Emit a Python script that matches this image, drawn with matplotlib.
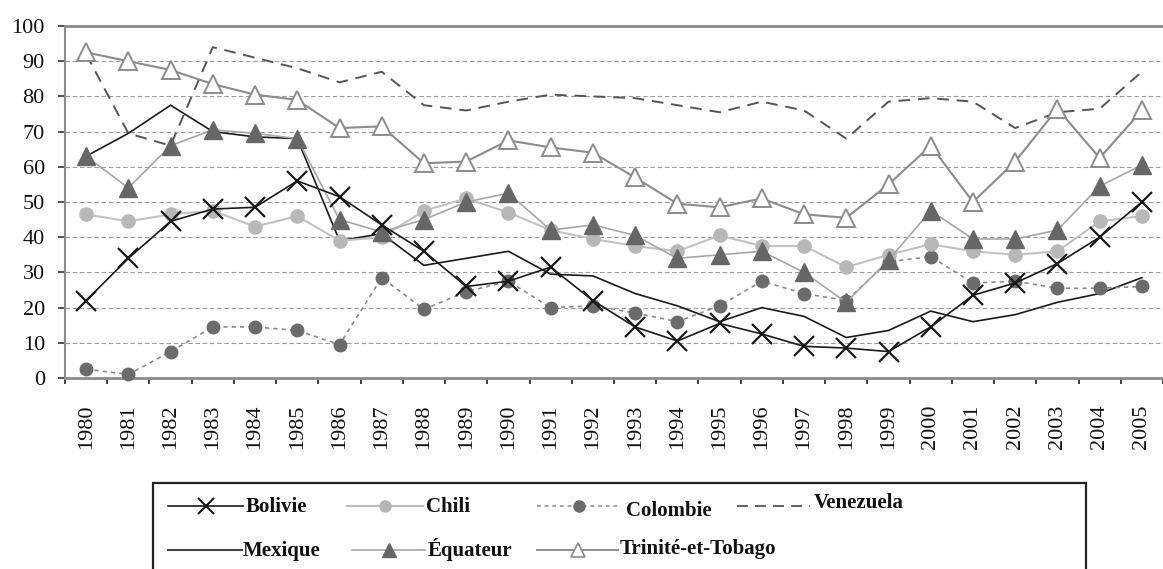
import matplotlib
matplotlib.use('Agg')
import matplotlib.pyplot as plt
from matplotlib.lines import Line2D
from matplotlib.patches import Rectangle

years = ['1980', '1981', '1982', '1983', '1984', '1985', '1986', '1987', '1988',
         '1989', '1990', '1991', '1992', '1993', '1994', '1995', '1996', '1997',
         '1998', '1999', '2000', '2001', '2002', '2003', '2004', '2005']

bolivie = [22, 34, 44.5, 48, 48.5, 56, 51.5, 43.5, 36, 26, 27.5, 31.5, 22, 14.5,
           10.5, 15.5, 12.5, 9, 8.5, 7.5, 14.5, 23.5, 27, 32.5, 40, 50]
chili = [46.5, 44.5, 46.5, 47.5, 43, 46, 39, 40, 47.5, 51, 47, 42, 39.5, 37.5,
         36, 40.5, 37.5, 37.5, 31.5, 35, 38, 36, 35, 36, 44.5, 46]
colombie = [2.5, 1, 7.5, 14.5, 14.5, 13.5, 9.5, 28.5, 19.5, 24.5, 27.5, 20, 20.5,
            18.5, 16, 20.5, 27.5, 24, 22, 33, 34.5, 27, 27.5, 25.5, 25.5, 26]
venezuela = [92, 69.5, 66, 94, 91, 88, 84, 87, 77.5, 76, 78.5, 80.5, 80, 79.5,
             77.5, 75.5, 78.5, 76, 68, 78.5, 79.5, 78.5, 71, 75.5, 76.5, 87]
mexique = [63, 69.5, 77.5, 70, 68.5, 68, 39, 41, 32, 34, 36, 29.5, 29, 24, 20.5,
           16, 20, 17.5, 11.5, 13.5, 19, 16, 18, 21.5, 24, 28.5]
equateur = [63, 54, 66, 70.5, 69.5, 68, 45, 41.5, 45, 50, 52.5, 42, 43.5, 40.5,
            34, 35, 36, 30, 21.5, 33.5, 47.5, 39.5, 39.5, 42, 54.5, 60.5]
trinite = [92.5, 90, 87.5, 83.5, 80.5, 79, 71, 71.5, 61, 61.5, 67.5, 65.5, 64, 57,
           49.5, 48.5, 51, 46.5, 45.5, 55, 66, 50, 61.5, 76.5, 62.5, 76]

plt.rcParams['font.family'] = ['Liberation Serif', 'DejaVu Serif']

W, H = 1163, 569
fig = plt.figure(figsize=(W / 100, H / 100), dpi=100)
ax = fig.add_axes([65 / W, 1 - 378 / H, (W - 65) / W, (378 - 26) / H])

x = list(range(len(years)))

styles = {
    'Venezuela': dict(color='#555555', lw=1.4, ls=(0, (6, 4)), zorder=2),
    'Mexique': dict(color='#1a1a1a', lw=1.2, ls='-', zorder=3),
    'Colombie': dict(color='#8a8a8a', lw=1.2, ls=(0, (2.5, 2.5)), marker='o', ms=9,
                     mfc='#6b6b6b', mec='#6b6b6b', zorder=4),
    'Chili': dict(color='#c2c2c2', lw=1.5, ls='-', marker='o', ms=9.5,
                  mfc='#b8b8b8', mec='#b8b8b8', zorder=4),
    'Équateur': dict(color='#aaa6a4', lw=1.2, ls='-', marker='^', ms=12.5,
                     mfc='#666666', mec='#666666', zorder=5),
    'Trinité-et-Tobago': dict(color='#8c8c8c', lw=1.5, ls='-', marker='^', ms=13.5,
                              mfc='white', mec='#8c8c8c', mew=1.4, zorder=5),
    'Bolivie': dict(color='#1a1a1a', lw=1.2, ls='-', marker='x', ms=15,
                    mec='#1a1a1a', mew=1.6, zorder=6),
}
series = {'Venezuela': venezuela, 'Mexique': mexique, 'Colombie': colombie,
          'Chili': chili, 'Équateur': equateur, 'Trinité-et-Tobago': trinite,
          'Bolivie': bolivie}

for name, vals in series.items():
    ax.plot(x, vals, clip_on=False, **styles[name])

ax.set_xlim(-0.5, (W - 65) / 42.6 - 0.5)
ax.set_ylim(0, 100)
ax.set_yticks(range(0, 101, 10))
ax.set_xticks([i - 0.5 for i in range(len(years) + 1)])
ax.set_xticklabels([])
ax.set_xticks(x, minor=True)
ax.set_xticklabels(years, minor=True, rotation=90)
ax.tick_params(axis='x', which='minor', length=0, pad=19, labelsize=16)
ax.tick_params(axis='x', which='major', length=4.5, width=1.3, color='#333333')
ax.tick_params(axis='y', length=5, width=1.2, pad=9.5, labelsize=16, color='#333333')
for lab in ax.get_yticklabels() + ax.get_xticklabels(minor=True):
    lab.set_color('#111111')

ax.grid(axis='y', color='#9a9a9a', lw=0.8, ls=(0, (4, 2.5)))
ax.set_axisbelow(True)
ax.spines['right'].set_visible(False)
ax.spines['top'].set_color('#8c8c8c')
ax.spines['top'].set_linewidth(2)
ax.spines['left'].set_color('#8c8c8c')
ax.spines['left'].set_linewidth(1.5)
ax.spines['bottom'].set_color('#8c8c8c')
ax.spines['bottom'].set_linewidth(2)

# legend box (manual, matching the original layout)
fig.add_artist(Rectangle((153 / W, 1 - 580 / H), (1086 - 153) / W, (580 - 483) / H,
                         transform=fig.transFigure, fill=False, lw=1.6,
                         ec='#222222', clip_on=False))

leg_style = {
    'Bolivie': dict(color='#1a1a1a', lw=1.2, marker='x', ms=12, mew=1.5, mec='#1a1a1a'),
    'Chili': dict(color='#bdbdbd', lw=1.5, marker='o', ms=8, mfc='#b5b5b5', mec='#b5b5b5'),
    'Colombie': dict(color='#8a8a8a', lw=1.1, ls=(0, (2.5, 2.5)), marker='o', ms=8,
                     mfc='#6b6b6b', mec='#6b6b6b'),
    'Venezuela': dict(color='#555555', lw=1.3, ls=(0, (6, 4))),
    'Mexique': dict(color='#444444', lw=1.5),
    'Équateur': dict(color='#aaa6a4', lw=1.2, marker='^', ms=10, mfc='#666666', mec='#666666'),
    'Trinité-et-Tobago': dict(color='#8c8c8c', lw=1.4, marker='^', ms=10, mfc='white',
                              mec='#8c8c8c', mew=1.2),
}
leg_pos = [
    ('Bolivie', 168, 243, 506, 246, 0),
    ('Chili', 347, 423, 506, 426, 0),
    ('Colombie', 537, 620, 506, 626, 4),
    ('Venezuela', 737, 810, 506, 814, -4),
    ('Mexique', 168, 242, 550, 243, 0),
    ('Équateur', 352, 425, 550, 428, 0),
    ('Trinité-et-Tobago', 537, 618, 550, 620, -2),
]
for name, x0, x1, yy, tx, dy in leg_pos:
    ln = Line2D([x0 / W, (x0 + x1) / 2 / W, x1 / W], [1 - yy / H] * 3,
                transform=fig.transFigure, markevery=[1], **leg_style[name])
    fig.add_artist(ln)
    fig.text(tx / W, 1 - (yy + 6 + dy) / H, name, fontsize=15, fontweight='bold',
             ha='left', va='baseline', color='#111111')

fig.savefig('out.png', dpi=100)
